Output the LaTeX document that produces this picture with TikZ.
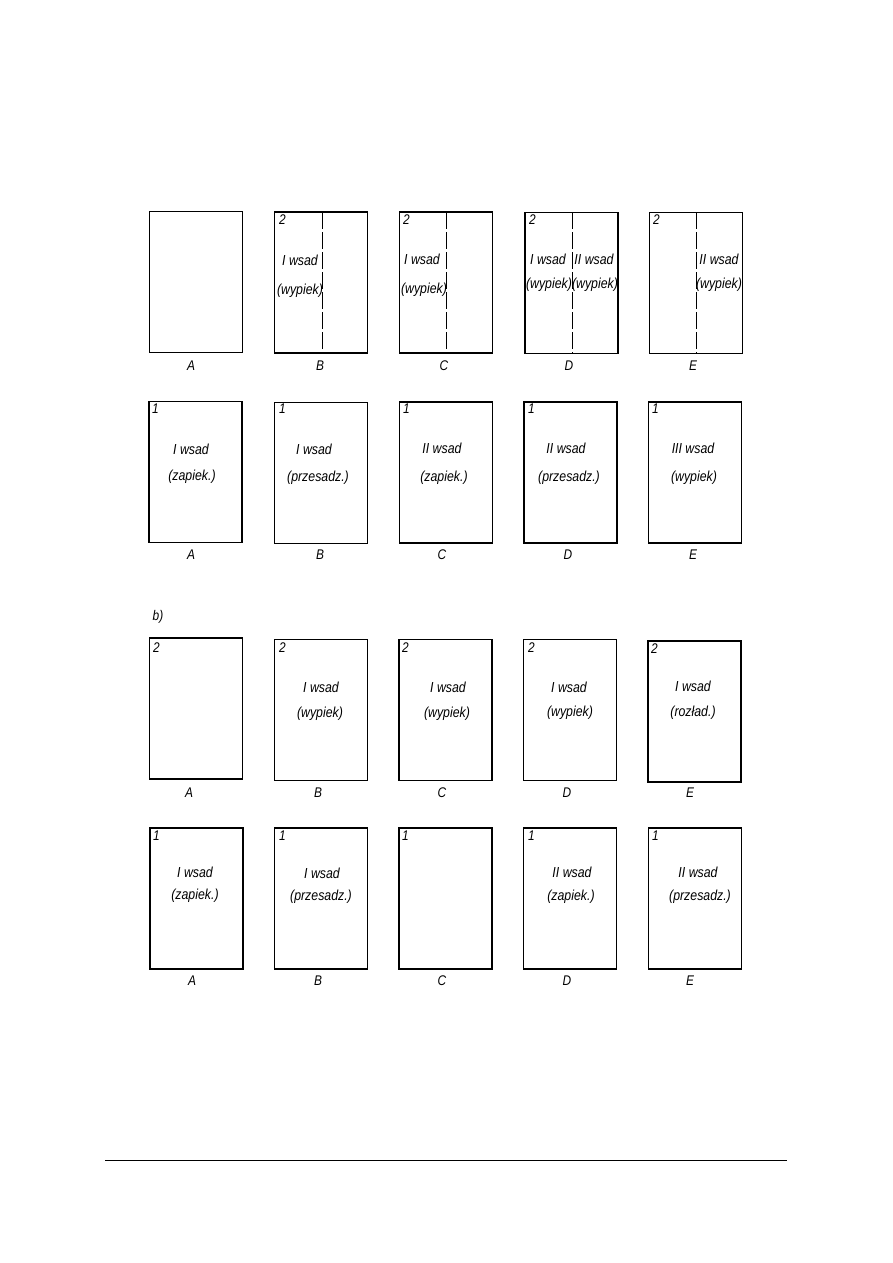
\documentclass[tikz,border=0pt]{standalone}
\usepackage{fontspec}
\newfontfamily\labfont[FakeStretch=0.85]{Liberation Sans}
\begin{document}
\begin{tikzpicture}[x=1pt,y=-1pt,
  sheet/.style={draw, line width=1.7pt, inner sep=0pt, outer sep=0pt, minimum width=93pt, minimum height=141pt},
  fold/.style={line width=0.9pt, dash pattern=on 17pt off 3pt},
  txt/.style={font=\labfont\itshape\fontsize{14.5}{15}\selectfont, inner sep=0pt},
  num/.style={font=\labfont\itshape\fontsize{14}{15}\selectfont, inner sep=0pt, anchor=north west},
  letter/.style={font=\labfont\itshape\fontsize{14}{15}\selectfont, inner sep=0pt}]
\useasboundingbox (0,0) rectangle (893,1263);
\fill[white] (0,0) rectangle (893,1263);
% ---------- row 1 ----------
\node[sheet] (r1a) at (196,282) {};
\node[sheet] (r1b) at (321,282.5) {};
\node[sheet] (r1c) at (446,282.5) {};
\node[sheet] (r1d) at (571.5,283) {};
\node[sheet] (r1e) at (696,283) {};
\draw[fold] (322,212) -- (322,353);
\draw[fold] (446,212) -- (446,353);
\draw[fold] (572,212) -- (572,354);
\draw[fold] (696,212) -- (696,354);
\node[num] (n1b) at (279,215) {2};
\node[num] (n1c) at (403,215) {2};
\node[num] (n1d) at (529,215) {2};
\node[num] (n1e) at (653,215) {2};
\node[txt] (t1b1) at (300,260) {I wsad};
\node[txt] (t1b2) at (300,291) {(wypiek)};
\node[txt] (t1c1) at (422,259) {I wsad};
\node[txt] (t1c2) at (424,290) {(wypiek)};
\node[txt] (t1d1) at (548,259) {I wsad};
\node[txt] (t1d2) at (549,285) {(wypiek)};
\node[txt] (t1d3) at (594,259) {II wsad};
\node[txt] (t1d4) at (595,285) {(wypiek)};
\node[txt] (t1e1) at (719,259) {II wsad};
\node[txt] (t1e2) at (719,285) {(wypiek)};
\node[letter] (l1a) at (191,366) {A};
\node[letter] (l1b) at (320,366) {B};
\node[letter] (l1c) at (444,366) {C};
\node[letter] (l1d) at (569,366) {D};
\node[letter] (l1e) at (693,366) {E};
% ---------- row 2 ----------
\node[sheet] (r2a) at (195.5,472) {};
\node[sheet] (r2b) at (321,473) {};
\node[sheet] (r2c) at (446,472.5) {};
\node[sheet] (r2d) at (570.5,472.5) {};
\node[sheet] (r2e) at (695,472.5) {};
\node[num] (n2a) at (152,404) {1};
\node[num] (n2b) at (279,404) {1};
\node[num] (n2c) at (403,404) {1};
\node[num] (n2d) at (528,404) {1};
\node[num] (n2e) at (652,404) {1};
\node[txt] (t2a1) at (191,449) {I wsad};
\node[txt] (t2a2) at (192,477) {(zapiek.)};
\node[txt] (t2b1) at (314,449) {I wsad};
\node[txt] (t2b2) at (318,478) {(przesadz.)};
\node[txt] (t2c1) at (442,448) {II wsad};
\node[txt] (t2c2) at (444,478) {(zapiek.)};
\node[txt] (t2d1) at (566,448) {II wsad};
\node[txt] (t2d2) at (569,478) {(przesadz.)};
\node[txt] (t2e1) at (693,448) {III wsad};
\node[txt] (t2e2) at (694,478) {(wypiek)};
\node[letter] (l2a) at (191,555) {A};
\node[letter] (l2b) at (320,555) {B};
\node[letter] (l2c) at (442,555) {C};
\node[letter] (l2d) at (568,555) {D};
\node[letter] (l2e) at (693,555) {E};
% ---------- b) ----------
\node[letter] (bl) at (158,617) {b)};
% ---------- row 3 ----------
\node[sheet] (r3a) at (196,708.5) {};
\node[sheet] (r3b) at (321,710) {};
\node[sheet] (r3c) at (445.5,710) {};
\node[sheet] (r3d) at (570,710) {};
\node[sheet] (r3e) at (694.5,711.5) {};
\node[num] (n3a) at (153,643) {2};
\node[num] (n3b) at (279,643) {2};
\node[num] (n3c) at (402,643) {2};
\node[num] (n3d) at (528,643) {2};
\node[num] (n3e) at (651,644) {2};
\node[txt] (t3b1) at (321,687) {I wsad};
\node[txt] (t3b2) at (320,714) {(wypiek)};
\node[txt] (t3c1) at (448,687) {I wsad};
\node[txt] (t3c2) at (447,714) {(wypiek)};
\node[txt] (t3d1) at (569,687) {I wsad};
\node[txt] (t3d2) at (570,713) {(wypiek)};
\node[txt] (t3e1) at (693,686) {I wsad};
\node[txt] (t3e2) at (693,713) {(rozład.)};
\node[letter] (l3a) at (189,793) {A};
\node[letter] (l3b) at (318,793) {B};
\node[letter] (l3c) at (442,793) {C};
\node[letter] (l3d) at (567,793) {D};
\node[letter] (l3e) at (690,793) {E};
% ---------- row 4 ----------
\node[sheet] (r4a) at (196.5,898.5) {};
\node[sheet] (r4b) at (321,898.5) {};
\node[sheet] (r4c) at (445.5,898.5) {};
\node[sheet] (r4d) at (570,898.5) {};
\node[sheet] (r4e) at (695,898.5) {};
\node[num] (n4a) at (153,831) {1};
\node[num] (n4b) at (279,831) {1};
\node[num] (n4c) at (402,831) {1};
\node[num] (n4d) at (528,831) {1};
\node[num] (n4e) at (652,831) {1};
\node[txt] (t4a1) at (195,872) {I wsad};
\node[txt] (t4a2) at (195,896) {(zapiek.)};
\node[txt] (t4b1) at (322,873) {I wsad};
\node[txt] (t4b2) at (321,897) {(przesadz.)};
\node[txt] (t4d1) at (572,872) {II wsad};
\node[txt] (t4d2) at (571,897) {(zapiek.)};
\node[txt] (t4e1) at (698,872) {II wsad};
\node[txt] (t4e2) at (700,897) {(przesadz.)};
\node[letter] (l4a) at (192,981) {A};
\node[letter] (l4b) at (318,981) {B};
\node[letter] (l4c) at (442,981) {C};
\node[letter] (l4d) at (567,981) {D};
\node[letter] (l4e) at (690,981) {E};
% ---------- footer rule ----------
\coordinate (f1) at (105,1160);
\coordinate (f2) at (787,1160);
\draw[line width=0.8pt] (f1) -- (f2);
\end{tikzpicture}
\end{document}
